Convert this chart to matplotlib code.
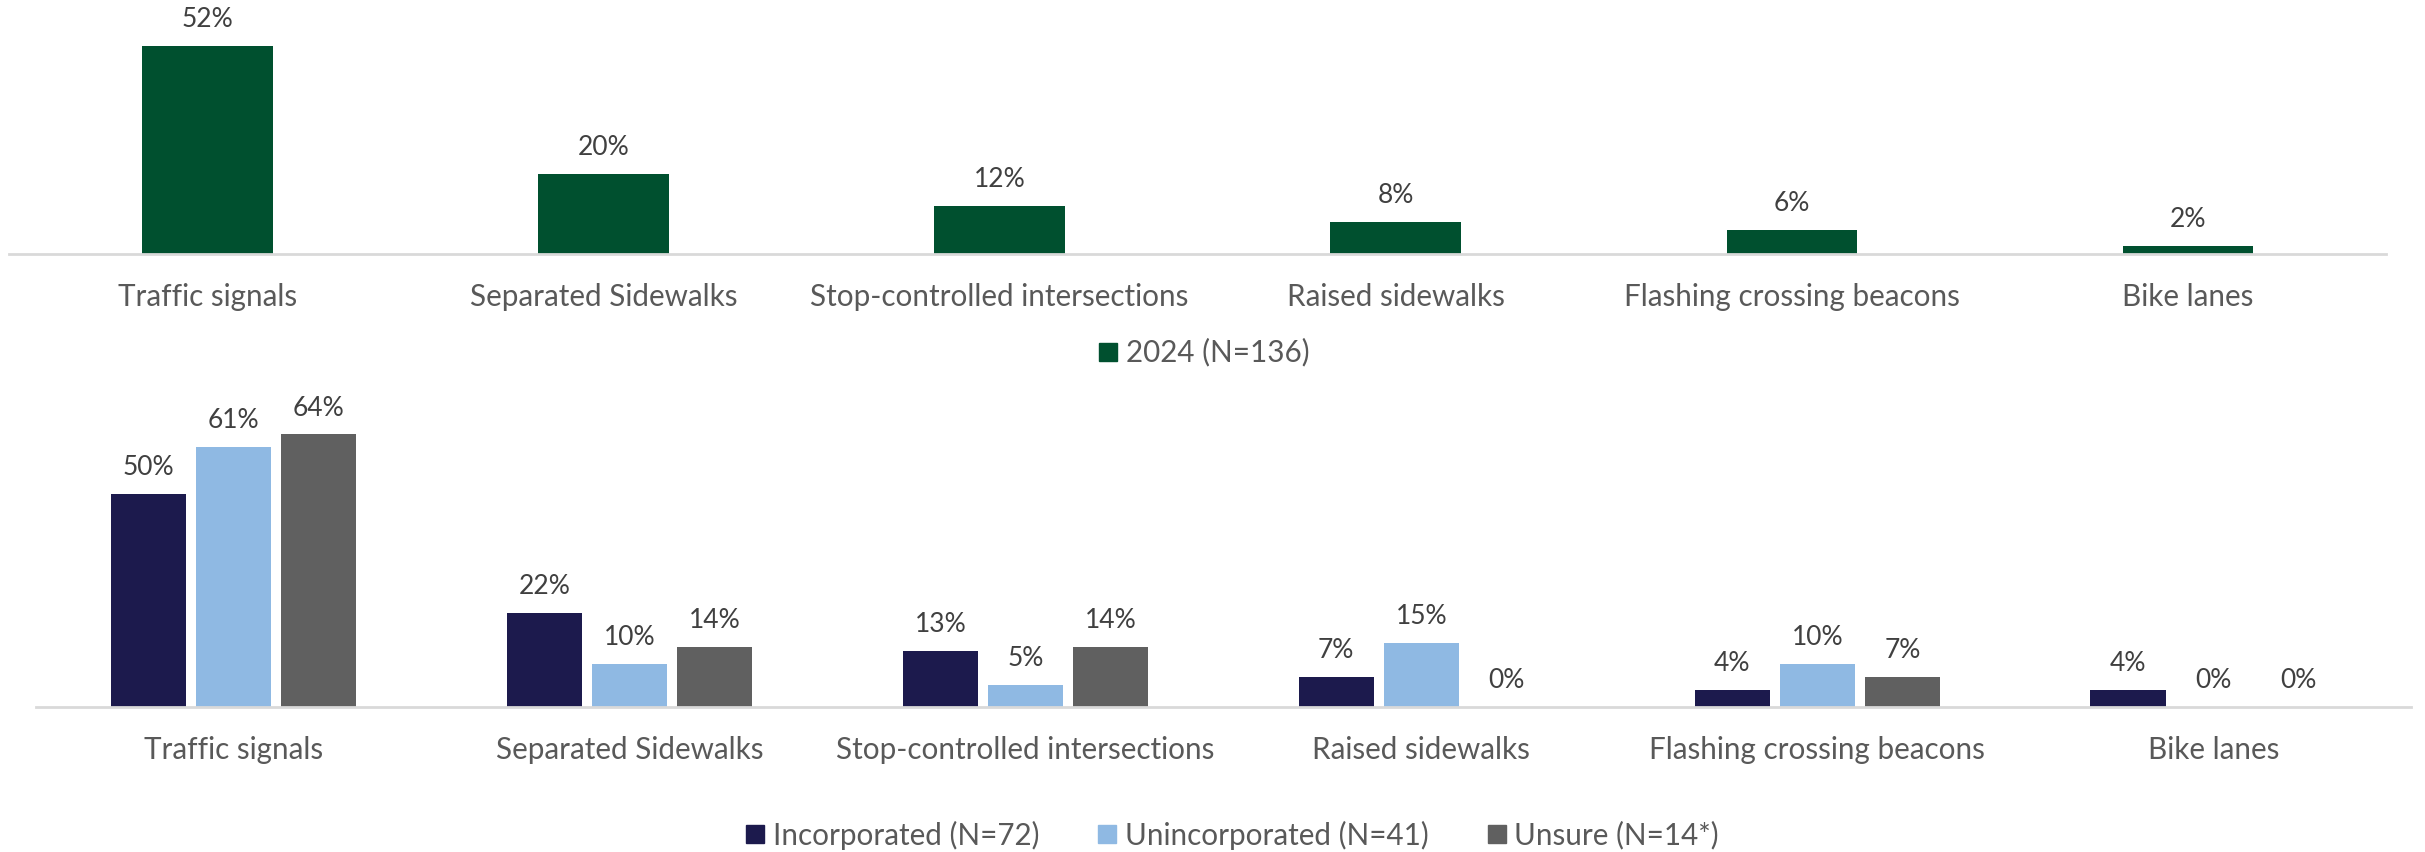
import matplotlib
matplotlib.use("Agg")
import matplotlib.pyplot as plt
from matplotlib.lines import Line2D
import numpy as np

plt.rcParams['font.family'] = ['Lato', 'DejaVu Sans']

categories = ["Traffic signals", "Separated Sidewalks", "Stop-controlled intersections",
              "Raised sidewalks", "Flashing crossing beacons", "Bike lanes"]
total_2024 = [52, 20, 12, 8, 6, 2]
incorporated = [50, 22, 13, 7, 4, 4]
unincorporated = [61, 10, 5, 15, 10, 0]
unsure = [64, 14, 14, 0, 7, 0]

top_label = "2024 (N=136)"
bottom_labels = ["Incorporated (N=72)", "Unincorporated (N=41)", "Unsure (N=14*)"]

green = "#00502F"
navy = "#1C1A4D"
light = "#8FB9E3"
gray = "#606060"
txt = "#595959"
lbl = "#404040"
axis_col = "#D9D9D9"

W, H = 2425, 852
fig = plt.figure(figsize=(W / 100, H / 100), dpi=100)

def style(ax):
    for s in ["top", "right", "left"]:
        ax.spines[s].set_visible(False)
    ax.spines["bottom"].set_color(axis_col)
    ax.spines["bottom"].set_linewidth(2)
    ax.set_yticks([])
    ax.tick_params(axis="x", length=0, pad=21, labelsize=21.3, labelcolor=txt)

x = np.arange(len(categories))

# top chart
ax1 = fig.add_axes([0.0038, 0.7024, 0.9802, 0.2813])
b = ax1.bar(x, total_2024, width=0.33, color=green)
ax1.set_xlim(-0.5, len(categories) - 0.5)
ax1.set_ylim(0, 60)
ax1.set_xticks(x)
ax1.set_xticklabels(categories)
style(ax1)
for rect, v in zip(b, total_2024):
    ax1.annotate(f"{v}%", (rect.get_x() + rect.get_width() / 2, v),
                 xytext=(0, 19), textcoords="offset points",
                 ha="center", va="center", fontsize=19, color=lbl)

# bottom chart
ax2 = fig.add_axes([0.0147, 0.1706, 0.9796, 0.3494])
bw = 0.19
step = 0.215
series = [incorporated, unincorporated, unsure]
colors = [navy, light, gray]
for i, (vals, c) in enumerate(zip(series, colors)):
    bars = ax2.bar(x + (i - 1) * step, vals, width=bw, color=c)
    for rect, v in zip(bars, vals):
        ax2.annotate(f"{v}%", (rect.get_x() + rect.get_width() / 2, v),
                     xytext=(0, 19), textcoords="offset points",
                     ha="center", va="center", fontsize=19, color=lbl)
ax2.set_xlim(-0.5, len(categories) - 0.5)
ax2.set_ylim(0, 70)
ax2.set_xticks(x)
ax2.set_xticklabels(categories)
style(ax2)

def sq(c):
    return Line2D([0], [0], marker="s", linestyle="none", markersize=13,
                  markerfacecolor=c, markeredgecolor=c)

fig.legend([sq(green)], [top_label], loc="center", bbox_to_anchor=(778 / 1568, 1 - 228 / 551),
           frameon=False, fontsize=21.3, labelcolor=txt, handletextpad=0.2, handlelength=0.8)
fig.legend([sq(c) for c in colors], bottom_labels, loc="center",
           bbox_to_anchor=(796 / 1568, 1 - 540 / 551), ncol=3,
           frameon=False, fontsize=21.3, labelcolor=txt, handletextpad=0.2, handlelength=0.8,
           columnspacing=1.9)

fig.savefig("out.png", dpi=100)
